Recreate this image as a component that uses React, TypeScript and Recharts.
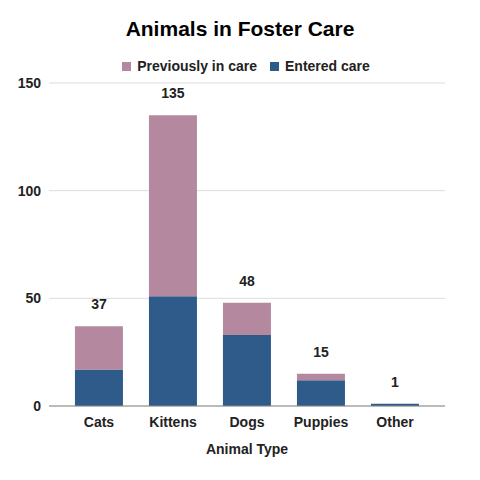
import React from 'react';
import { BarChart, Bar, XAxis, YAxis, CartesianGrid, LabelList } from 'recharts';

const categories = ['Cats', 'Kittens', 'Dogs', 'Puppies', 'Other'];
const enteredCare = [17, 51, 33, 12, 1];
const previouslyInCare = [20, 84, 15, 3, 0];
const yTicks = [0, 50, 100, 150];

const PINK = '#b4889f';
const BLUE = '#2e5b8a';
const FONT = '"Liberation Sans", Arial, sans-serif';

const data = categories.map((name, i) => ({
  name,
  entered: enteredCare[i],
  previous: previouslyInCare[i],
  total: enteredCare[i] + previouslyInCare[i],
}));

// etiqueta do total acima da pilha (calculada a partir da barra de baixo)
const TotalLabel = (props: any) => {
  const { x, y, width, height, index } = props;
  const d = data[index];
  const pxPerUnit = height / d.entered;
  const top = y - d.previous * pxPerUnit;
  return (
    <text
      x={x + width / 2}
      y={top - 17}
      textAnchor="middle"
      fontFamily={FONT}
      fontWeight="bold"
      fontSize={14}
      fill="#222"
    >
      {d.total}
    </text>
  );
};

export default function App() {
  return (
    <div style={{ position: 'absolute', left: 0, top: 0, width: 480, height: 480, background: '#fff', fontFamily: FONT }}>
      <div style={{ position: 'absolute', top: 17, width: 480, textAlign: 'center', fontSize: 21, fontWeight: 'bold', color: '#000' }}>
        Animals in Foster Care
      </div>
      <div style={{ position: 'absolute', top: 58, left: 6, width: 480, display: 'flex', justifyContent: 'center', gap: 13, fontSize: 14, fontWeight: 'bold', color: '#222' }}>
        {[['Previously in care', PINK], ['Entered care', BLUE]].map(([label, color]) => (
          <div key={label} style={{ display: 'flex', alignItems: 'center', gap: 6 }}>
            <span style={{ display: 'inline-block', width: 9, height: 9, background: color }} />
            <span>{label}</span>
          </div>
        ))}
      </div>
      <BarChart
        width={480}
        height={480}
        data={data}
        margin={{ top: 83, right: 35, left: 0, bottom: 26 }}
        barCategoryGap="17.5%"
      >
        <CartesianGrid vertical={false} stroke="#dcdcdc" />
        <XAxis
          dataKey="name"
          padding={{ left: 13, right: 13 }}
          axisLine={{ stroke: '#888' }}
          tickLine={false}
          height={48}
          tick={{ fontFamily: FONT, fontWeight: 'bold', fontSize: 14, fill: '#222' }}
          tickMargin={5}
          label={{ value: 'Animal Type', position: 'insideBottom', offset: 0, style: { fontFamily: FONT, fontWeight: 'bold', fontSize: 14, fill: '#222' } }}
        />
        <YAxis
          width={49}
          domain={[0, 150]}
          ticks={yTicks}
          axisLine={false}
          tickLine={false}
          tick={{ fontFamily: FONT, fontWeight: 'bold', fontSize: 14, fill: '#222' }}
          tickMargin={2}
        />
        <Bar dataKey="entered" stackId="a" fill={BLUE} isAnimationActive={false}>
          <LabelList dataKey="total" content={<TotalLabel />} />
        </Bar>
        <Bar dataKey="previous" stackId="a" fill={PINK} isAnimationActive={false} />
      </BarChart>
    </div>
  );
}
